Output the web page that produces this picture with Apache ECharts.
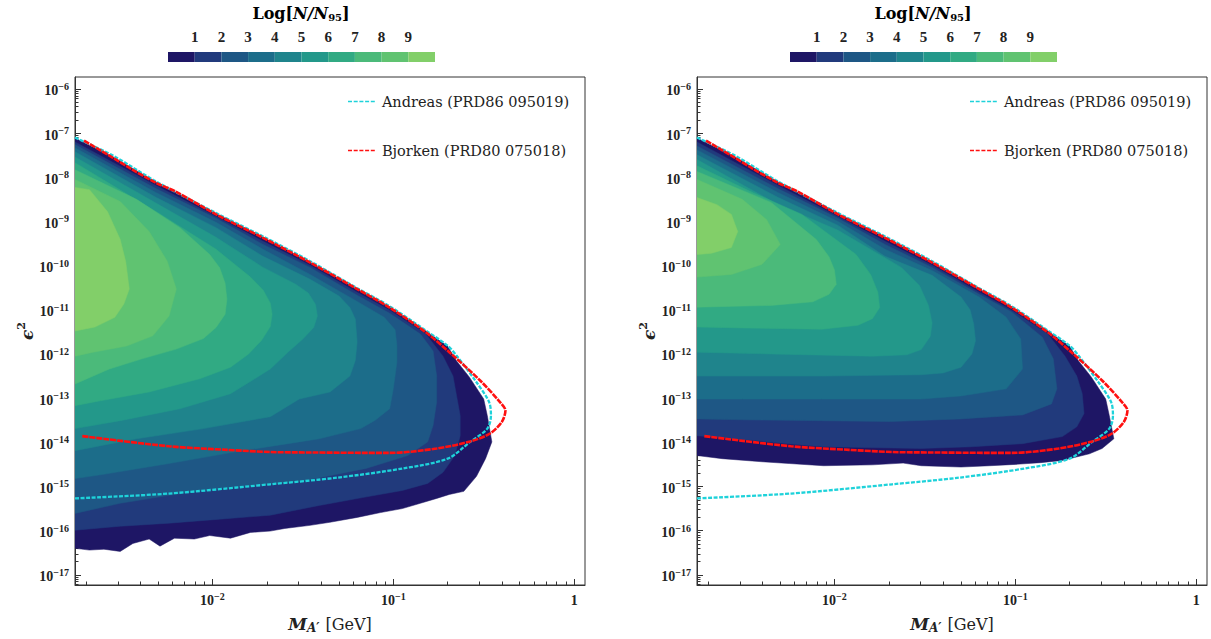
<!DOCTYPE html>
<html lang="en">
<head>
<meta charset="UTF-8">
<title>A' yield contours</title>
<script src="https://cdn.jsdelivr.net/npm/echarts@6.0.0/dist/echarts.min.js"></script>
<style>
  html, body { margin: 0; padding: 0; background: #fff; }
  #chart { width: 1211px; height: 639px; }
</style>
</head>
<body>
<div id="chart"></div>
<script>
// every point is [log10(M / GeV), log10(eps^2)]
const levelTicks = [1, 2, 3, 4, 5, 6, 7, 8, 9];
const levelColors = ['#1e1665', '#213a7c', '#1e5785', '#1c6d8a', '#1f848c', '#23988a', '#31aa83', '#4bba7a', '#60c371', '#82cf69'];
const massTicks = [-2, -1, 0];
const epsTicks = [-17, -16, -15, -14, -13, -12, -11, -10, -9, -8, -7, -6];

const andreas = [[-2.76, -7.10], [-2.55, -7.51], [-2.31, -8.10], [-1.98, -8.81], [-1.72, -9.34], [-1.46, -9.90], [-1.20, -10.51],
  [-1.02, -10.92], [-0.82, -11.47], [-0.70, -11.81], [-0.65, -12.04], [-0.54, -12.64], [-0.47, -13.09], [-0.46, -13.39],
  [-0.48, -13.69], [-0.575, -13.99], [-0.70, -14.37], [-0.945, -14.59], [-1.31, -14.80], [-1.68, -14.95], [-2.24, -15.16], [-2.76, -15.27]];
const bjorken = [[-2.71, -7.17], [-2.55, -7.56], [-2.45, -7.81], [-2.31, -8.13], [-2.20, -8.33], [-1.98, -8.84], [-1.72, -9.37],
  [-1.46, -9.93], [-1.20, -10.53], [-1.02, -10.95], [-0.82, -11.51], [-0.69, -11.96], [-0.52, -12.60], [-0.41, -13.09],
  [-0.38, -13.28], [-0.40, -13.54], [-0.465, -13.80], [-0.575, -13.98], [-0.76, -14.14], [-1.02, -14.24], [-1.46, -14.23],
  [-1.68, -14.22], [-1.92, -14.17], [-2.24, -14.09], [-2.72, -13.86]];

// region where Log[N/N95] >= 0, 1, ... 9 (left panel)
const leftContours = [
  [[-2.76, -7.11], [-2.55, -7.54], [-2.31, -8.11], [-1.98, -8.82], [-1.72, -9.36], [-1.46, -9.93], [-1.20, -10.53], [-1.02, -10.94],
   [-0.82, -11.48], [-0.70, -11.82], [-0.65, -12.16], [-0.58, -12.52], [-0.50, -13.02], [-0.48, -13.40], [-0.455, -13.99],
   [-0.49, -14.37], [-0.54, -14.77], [-0.61, -15.11], [-0.69, -15.18], [-0.76, -15.27], [-0.85, -15.38], [-0.95, -15.50],
   [-1.07, -15.59], [-1.20, -15.70], [-1.35, -15.81], [-1.46, -15.88], [-1.60, -15.95], [-1.68, -16.01], [-1.79, -16.04],
   [-1.90, -16.17], [-2.015, -16.11], [-2.10, -16.19], [-2.21, -16.17], [-2.29, -16.35], [-2.35, -16.19], [-2.44, -16.29],
   [-2.51, -16.47], [-2.60, -16.42], [-2.68, -16.44], [-2.76, -16.40]],
  [[-2.76, -7.20], [-2.31, -8.19], [-1.98, -8.89], [-1.72, -9.45], [-1.46, -9.99], [-1.20, -10.60], [-1.02, -11.01], [-0.82, -11.55],
   [-0.725, -12.05], [-0.67, -12.50], [-0.65, -12.95], [-0.63, -13.40], [-0.63, -13.85], [-0.66, -14.30], [-0.725, -14.68],
   [-0.81, -14.93], [-0.95, -15.09], [-1.17, -15.25], [-1.41, -15.43], [-1.68, -15.65], [-1.96, -15.74], [-2.24, -15.83],
   [-2.51, -15.90], [-2.76, -15.99]],
  [[-2.76, -7.26], [-2.31, -8.26], [-1.98, -8.93], [-1.72, -9.52], [-1.46, -10.04], [-1.20, -10.67], [-1.02, -11.08], [-0.85, -11.55],
   [-0.78, -11.93], [-0.76, -12.50], [-0.76, -13.08], [-0.78, -13.62], [-0.81, -13.99], [-0.92, -14.30], [-1.15, -14.59],
   [-1.52, -14.89], [-1.96, -15.04], [-2.24, -15.20], [-2.51, -15.38], [-2.76, -15.61]],
  [[-2.76, -7.33], [-2.31, -8.35], [-1.98, -9.02], [-1.72, -9.63], [-1.46, -10.20], [-1.20, -10.81], [-1.05, -11.17], [-0.99, -11.45],
   [-0.98, -11.80], [-0.98, -12.18], [-1.00, -12.79], [-1.02, -13.24], [-1.10, -13.50], [-1.18, -13.69], [-1.41, -13.92],
   [-1.52, -13.99], [-1.865, -14.21], [-2.24, -14.48], [-2.61, -14.73], [-2.76, -14.82]],
  [[-2.76, -7.42], [-2.31, -8.46], [-1.98, -9.14], [-1.72, -9.79], [-1.46, -10.31], [-1.30, -10.69], [-1.24, -10.95], [-1.21, -11.21],
   [-1.20, -11.73], [-1.21, -12.15], [-1.24, -12.50], [-1.35, -12.86], [-1.52, -13.02], [-1.68, -13.42], [-2.05, -13.69],
   [-2.42, -13.92], [-2.76, -14.19]],
  [[-2.76, -7.54], [-2.31, -8.59], [-1.98, -9.36], [-1.72, -10.04], [-1.54, -10.42], [-1.47, -10.62], [-1.43, -10.88], [-1.42, -11.14],
   [-1.44, -11.40], [-1.50, -11.66], [-1.58, -11.95], [-1.68, -12.34], [-1.90, -12.90], [-2.18, -13.24], [-2.51, -13.51], [-2.76, -13.69]],
  [[-2.76, -7.67], [-2.31, -8.78], [-1.98, -9.63], [-1.79, -10.26], [-1.72, -10.55], [-1.68, -10.85], [-1.67, -11.10], [-1.68, -11.38],
   [-1.73, -11.70], [-1.80, -12.00], [-1.90, -12.30], [-2.07, -12.56], [-2.35, -12.86], [-2.62, -13.06], [-2.76, -13.17]],
  [[-2.76, -7.83], [-2.42, -8.50], [-2.18, -9.14], [-2.015, -9.75], [-1.96, -10.05], [-1.93, -10.40], [-1.92, -10.76], [-1.93, -11.10],
   [-1.98, -11.40], [-2.05, -11.65], [-2.20, -11.89], [-2.39, -12.11], [-2.57, -12.34], [-2.76, -12.68]],
  [[-2.76, -8.05], [-2.51, -8.55], [-2.35, -9.23], [-2.25, -9.90], [-2.20, -10.53], [-2.24, -11.14], [-2.33, -11.59], [-2.475, -11.82],
   [-2.66, -11.96], [-2.76, -12.05]],
  [[-2.76, -8.23], [-2.68, -8.28], [-2.58, -8.78], [-2.51, -9.41], [-2.48, -9.90], [-2.46, -10.53], [-2.49, -10.87], [-2.54, -11.17],
   [-2.65, -11.39], [-2.76, -11.48]]
];

// same levels, right panel
const rightContours = [
  [[-2.76, -7.11], [-2.55, -7.54], [-2.31, -8.11], [-1.98, -8.82], [-1.72, -9.36], [-1.46, -9.93], [-1.20, -10.53], [-1.02, -10.94],
   [-0.82, -11.48], [-0.70, -11.82], [-0.65, -12.16], [-0.58, -12.52], [-0.50, -13.02], [-0.48, -13.40], [-0.455, -13.92],
   [-0.52, -14.14], [-0.59, -14.26], [-0.74, -14.41], [-0.86, -14.46], [-1.00, -14.50], [-1.14, -14.53], [-1.30, -14.56],
   [-1.52, -14.53], [-1.62, -14.47], [-1.79, -14.51], [-2.06, -14.53], [-2.25, -14.48], [-2.40, -14.44], [-2.62, -14.37], [-2.76, -14.30]],
  [[-2.76, -7.20], [-2.31, -8.19], [-1.98, -8.89], [-1.72, -9.45], [-1.46, -9.99], [-1.20, -10.60], [-1.02, -11.01], [-0.82, -11.55],
   [-0.725, -12.05], [-0.66, -12.50], [-0.63, -12.90], [-0.62, -13.35], [-0.66, -13.65], [-0.74, -13.87], [-0.96, -14.03],
   [-1.24, -14.10], [-1.52, -14.14], [-2.07, -14.10], [-2.51, -13.94], [-2.76, -13.85]],
  [[-2.76, -7.29], [-2.31, -8.26], [-1.98, -8.93], [-1.72, -9.52], [-1.46, -10.04], [-1.20, -10.65], [-1.02, -11.05], [-0.85, -11.62],
   [-0.79, -12.11], [-0.77, -12.79], [-0.80, -13.13], [-0.96, -13.38], [-1.30, -13.47], [-1.69, -13.53], [-2.07, -13.51],
   [-2.51, -13.49], [-2.76, -13.47]],
  [[-2.76, -7.38], [-2.31, -8.35], [-1.98, -9.00], [-1.72, -9.63], [-1.46, -10.11], [-1.20, -10.71], [-1.05, -11.17], [-0.97, -11.66],
   [-0.96, -12.34], [-1.05, -12.79], [-1.30, -12.95], [-1.52, -13.02], [-2.07, -13.02], [-2.51, -13.02], [-2.76, -13.02]],
  [[-2.76, -7.49], [-2.31, -8.46], [-1.98, -9.09], [-1.72, -9.79], [-1.46, -10.22], [-1.30, -10.71], [-1.25, -11.00], [-1.23, -11.32],
   [-1.22, -11.70], [-1.24, -12.00], [-1.30, -12.30], [-1.40, -12.43], [-1.52, -12.47], [-2.07, -12.50], [-2.76, -12.50]],
  [[-2.76, -7.60], [-2.31, -8.62], [-1.98, -9.20], [-1.63, -10.04], [-1.53, -10.45], [-1.48, -10.90], [-1.46, -11.30], [-1.47, -11.60],
   [-1.52, -11.90], [-1.60, -12.02], [-1.79, -12.05], [-2.35, -12.00], [-2.76, -11.96]],
  [[-2.76, -7.74], [-2.45, -8.35], [-2.18, -8.84], [-1.88, -9.75], [-1.80, -10.20], [-1.76, -10.60], [-1.75, -10.95], [-1.79, -11.20],
   [-1.87, -11.35], [-2.07, -11.44], [-2.51, -11.41], [-2.76, -11.39]],
  [[-2.76, -7.87], [-2.35, -8.57], [-2.10, -9.41], [-2.03, -9.80], [-2.00, -10.10], [-1.99, -10.42], [-2.03, -10.65], [-2.12, -10.82],
   [-2.35, -10.90], [-2.76, -10.94]],
  [[-2.76, -8.05], [-2.51, -8.50], [-2.375, -8.96], [-2.30, -9.52], [-2.40, -9.97], [-2.57, -10.20], [-2.76, -10.26]],
  [[-2.76, -8.46], [-2.65, -8.62], [-2.57, -8.84], [-2.535, -9.23], [-2.57, -9.59], [-2.68, -9.72], [-2.76, -9.75]]
];

const xMin = -2.76, xMax = 0.06, yMin = -17.23, yMax = -5.73;
const serif = 'Liberation Serif';
const axisColor = '#333';

// log minor tick positions 2..9 x 10^n
function minorTicks(lo, hi) {
  const out = [];
  for (let n = Math.floor(lo); n <= Math.ceil(hi); n++) {
    for (let k = 2; k <= 9; k++) {
      const v = n + Math.log10(k);
      if (v > lo && v < hi) out.push(v);
    }
  }
  return out;
}

const powRich = {
  b: { fontFamily: serif, fontWeight: 'bold', fontSize: 14, color: '#222', lineHeight: 15, padding: [4, 0, 0, 0] },
  e: { fontFamily: serif, fontWeight: 'bold', fontSize: 10, color: '#222', lineHeight: 10, verticalAlign: 'top' }
};
function powLabel(v) {
  const n = Math.round(v);
  if (n === 0) return '{b|1}';
  return '{b|10}{e|' + String(n).replace('-', '\u2212') + '}';
}

function massAxes(grid) {
  return [{
    type: 'value', gridIndex: grid, min: xMin, max: xMax, position: 'bottom',
    name: '{m|M}{s|A\u2032}{t| [GeV]}', nameLocation: 'middle', nameGap: 30,
    nameTextStyle: {
      rich: {
        m: { fontFamily: 'DejaVu Serif', fontStyle: 'italic', fontWeight: 'bold', fontSize: 17, color: '#222', lineHeight: 18 },
        s: { fontFamily: 'DejaVu Serif', fontStyle: 'italic', fontWeight: 'bold', fontSize: 12, color: '#222', lineHeight: 12, padding: [8, 1, 0, 0] },
        t: { fontFamily: 'DejaVu Serif', fontSize: 16, color: '#222', lineHeight: 18 }
      }
    },
    axisLine: { onZero: false, lineStyle: { color: axisColor, width: 1 } },
    axisTick: { inside: true, length: 6, customValues: massTicks, lineStyle: { color: axisColor } },
    axisLabel: { customValues: massTicks, formatter: powLabel, rich: powRich, margin: 6 },
    splitLine: { show: false }
  }, {
    type: 'value', gridIndex: grid, min: xMin, max: xMax, position: 'bottom',
    axisLine: { show: false, onZero: false },
    axisTick: { inside: true, length: 3.5, customValues: minorTicks(xMin, xMax), lineStyle: { color: axisColor } },
    axisLabel: { show: false }, splitLine: { show: false }
  }];
}

function epsAxes(grid) {
  return [{
    type: 'value', gridIndex: grid, min: yMin, max: yMax, position: 'left',
    name: '{e|\u03f5}{s|2}', nameLocation: 'middle', nameGap: 40,
    nameTextStyle: {
      rich: {
        e: { fontFamily: 'DejaVu Serif', fontStyle: 'italic', fontWeight: 'bold', fontSize: 17, color: '#222', lineHeight: 17, padding: [4, 0, 0, 0] },
        s: { fontFamily: 'DejaVu Serif', fontWeight: 'bold', fontSize: 11, color: '#222', lineHeight: 11, verticalAlign: 'top' }
      }
    },
    axisLine: { onZero: false, lineStyle: { color: axisColor, width: 1 } },
    axisTick: { inside: true, length: 6, customValues: epsTicks, lineStyle: { color: axisColor } },
    axisLabel: { customValues: epsTicks, formatter: powLabel, rich: powRich, margin: 6 },
    splitLine: { show: false }
  }, {
    type: 'value', gridIndex: grid, min: yMin, max: yMax, position: 'left',
    axisLine: { show: false, onZero: false },
    axisTick: { inside: true, length: 3.5, customValues: minorTicks(yMin, yMax), lineStyle: { color: axisColor } },
    axisLabel: { show: false }, splitLine: { show: false }
  }];
}

function contourSeries(grid, contours) {
  return {
    type: 'custom', coordinateSystem: 'cartesian2d', xAxisIndex: grid * 2, yAxisIndex: grid * 2,
    silent: true, clip: true, z: 1,
    data: contours.map((poly, i) => [poly[1][0], poly[1][1], i]),
    encode: { x: 0, y: 1 },
    renderItem: function (params, api) {
      const i = api.value(2);
      return {
        type: 'polygon',
        shape: { points: contours[i].map(p => api.coord(p)) },
        style: { fill: levelColors[i], stroke: levelColors[i], lineWidth: 0.5, lineJoin: 'round' }
      };
    }
  };
}

function lineSeries(grid, name, data, color, dash, width) {
  return {
    type: 'line', name: name, xAxisIndex: grid * 2, yAxisIndex: grid * 2, data: data,
    symbol: 'none', showSymbol: false, smooth: 0.3, z: 5, silent: true,
    lineStyle: { color: color, width: width, type: dash },
    itemStyle: { color: color }
  };
}

function colorbarSeries(idx) {
  return {
    type: 'custom', coordinateSystem: 'cartesian2d', xAxisIndex: idx, yAxisIndex: idx, silent: true,
    data: levelColors.map((c, i) => [i, 0, i]),
    encode: { x: 0, y: 1 },
    renderItem: function (params, api) {
      const i = api.value(2);
      const a = api.coord([i, 1]);
      const b = api.coord([i + 1, 0]);
      return { type: 'rect', shape: { x: a[0], y: a[1], width: b[0] - a[0], height: b[1] - a[1] }, style: { fill: levelColors[i] } };
    }
  };
}

function colorbarAxes(grid) {
  return {
    x: {
      type: 'value', gridIndex: grid, min: 0, max: 10, position: 'top',
      axisLine: { show: false, onZero: false }, axisTick: { show: false }, splitLine: { show: false },
      axisLabel: { customValues: levelTicks, fontFamily: serif, fontWeight: 'bold', fontSize: 15, color: '#222', margin: 8 }
    },
    y: { type: 'value', gridIndex: grid, min: 0, max: 1, show: false }
  };
}

const legendNames = ['Andreas (PRD86 095019)', 'Bjorken (PRD80 075018)'];
const dashIcon = 'path://M0,0h4v1.6h-4z M5.7,0h4v1.6h-4z M11.4,0h4v1.6h-4z M17.1,0h4v1.6h-4z M22.8,0h4v1.6h-4z';
const titleRich = {
  a: { fontFamily: 'DejaVu Serif', fontWeight: 'bold', fontSize: 16, color: '#222', lineHeight: 20 },
  b: { fontFamily: 'DejaVu Serif', fontWeight: 'bold', fontStyle: 'italic', fontSize: 16, color: '#222', lineHeight: 20 },
  s: { fontFamily: 'DejaVu Serif', fontWeight: 'bold', fontSize: 10, color: '#222', lineHeight: 10, padding: [9, 0, 0, 0] }
};
const titleText = '{a|Log[}{b|N/N}{s|95}{a|]}';

const chart = echarts.init(document.getElementById('chart'), null, { renderer: 'svg' });
const cbL = colorbarAxes(2), cbR = colorbarAxes(3);

function legendAt(left) {
  return {
    data: legendNames.map(n => ({ name: n, icon: dashIcon })),
    left: left, top: 89, orient: 'vertical', itemGap: 34,
    itemWidth: 27, itemHeight: 1.6, selectedMode: false,
    textStyle: { fontFamily: 'DejaVu Serif', fontSize: 14.5, color: '#222', padding: [0, 0, 0, 2] }
  };
}

chart.setOption({
  animation: false,
  backgroundColor: '#fff',
  grid: [
    { left: 75, top: 77, width: 510, height: 510, show: true, borderColor: axisColor, borderWidth: 1, backgroundColor: 'transparent' },
    { left: 697, top: 77, width: 510, height: 510, show: true, borderColor: axisColor, borderWidth: 1, backgroundColor: 'transparent' },
    { left: 168, top: 52, width: 267, height: 10 },
    { left: 790, top: 52, width: 267, height: 10 }
  ],
  xAxis: [...massAxes(0), ...massAxes(1), cbL.x, cbR.x],
  yAxis: [...epsAxes(0), ...epsAxes(1), cbL.y, cbR.y],
  legend: [legendAt(343), legendAt(965)],
  graphic: [
    { type: 'text', x: 301, y: 13, style: { text: titleText, rich: titleRich, align: 'center', verticalAlign: 'middle' } },
    { type: 'text', x: 923, y: 13, style: { text: titleText, rich: titleRich, align: 'center', verticalAlign: 'middle' } }
  ],
  series: [
    contourSeries(0, leftContours),
    contourSeries(1, rightContours),
    lineSeries(0, legendNames[0], andreas, '#1ed2da', [4, 1.5], 2.3),
    lineSeries(0, legendNames[1], bjorken, '#ff1010', [6, 1], 2.6),
    lineSeries(1, legendNames[0], andreas, '#1ed2da', [4, 1.5], 2.3),
    lineSeries(1, legendNames[1], bjorken, '#ff1010', [6, 1], 2.6),
    colorbarSeries(4),
    colorbarSeries(5)
  ]
});
</script>
</body>
</html>
